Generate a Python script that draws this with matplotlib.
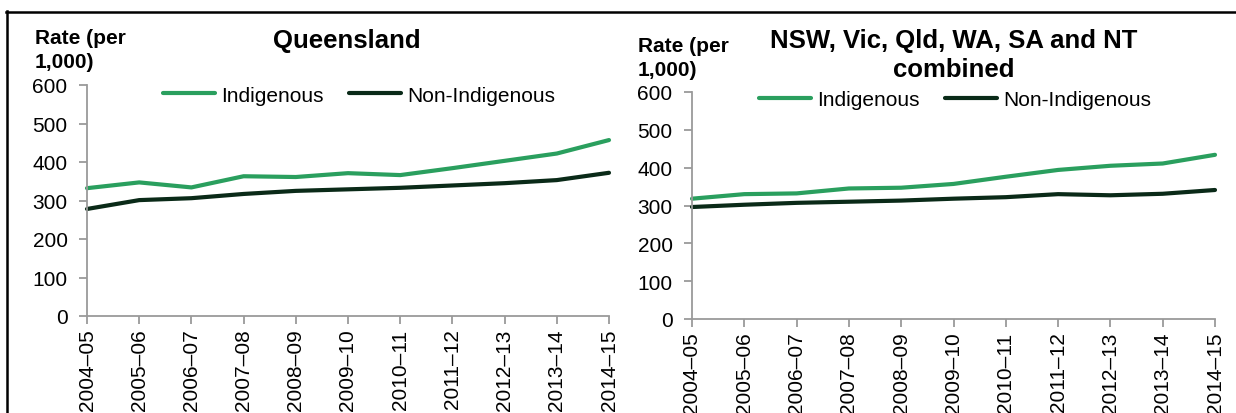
import matplotlib
matplotlib.use("Agg")
import matplotlib.pyplot as plt
from matplotlib.lines import Line2D

plt.rcParams['font.family'] = ['Liberation Sans', 'DejaVu Sans']

years = ["2004\u201305", "2005\u201306", "2006\u201307", "2007\u201308", "2008\u201309",
         "2009\u201310", "2010\u201311", "2011\u201312", "2012\u201313", "2013\u201314", "2014\u201315"]

qld_indigenous = [332, 347, 334, 363, 361, 371, 366, 384, 403, 422, 457]
qld_non_indigenous = [278, 301, 306, 317, 325, 329, 333, 339, 345, 353, 372]

comb_indigenous = [318, 330, 332, 345, 347, 357, 376, 394, 405, 411, 434]
comb_non_indigenous = [296, 302, 307, 310, 313, 318, 322, 330, 327, 331, 341]

titles = ["Queensland", "NSW, Vic, Qld, WA, SA and NT\ncombined"]
series_labels = ["Indigenous", "Non-Indigenous"]
yticks = [0, 100, 200, 300, 400, 500, 600]

GREEN = '#2A9F5E'
DARK = '#0A2A18'
AXC = '#9A9A9A'

W, H = 1236, 414
fig = plt.figure(figsize=(W / 100, H / 100), dpi=100)


def fx(px):
    return px / W


def fy(py):
    return 1 - py / H


panels = [
    dict(x0=87, x1=609, ytop=86, ybot=317, ind=qld_indigenous, non=qld_non_indigenous,
         title=titles[0], tx=347, ty=29, rx=35, ry=29, legx=359, legy=96),
    dict(x0=692, x1=1215, ytop=93, ybot=320, ind=comb_indigenous, non=comb_non_indigenous,
         title=titles[1], tx=954, ty=29, rx=638, ry=37, legx=955, legy=101),
]

for p in panels:
    ax = fig.add_axes([fx(p['x0']), fy(p['ybot']), fx(p['x1'] - p['x0']), (p['ybot'] - p['ytop']) / H])
    xs = list(range(len(years)))
    ax.plot(xs, p['ind'], color=GREEN, lw=3.0, label=series_labels[0], solid_capstyle='round')
    ax.plot(xs, p['non'], color=DARK, lw=3.0, label=series_labels[1], solid_capstyle='round')
    ax.set_xlim(0, len(years) - 1)
    ax.set_ylim(0, 600)
    ax.set_yticks(yticks)
    ax.set_xticks(xs)
    ax.set_xticklabels(years, rotation=90)
    for s in ['top', 'right']:
        ax.spines[s].set_visible(False)
    for s in ['left', 'bottom']:
        ax.spines[s].set_color(AXC)
        ax.spines[s].set_linewidth(1.3)
    ax.spines['bottom'].set_zorder(0)
    ax.tick_params(axis='both', colors=AXC, labelcolor='black', labelsize=15,
                   length=6, width=1.3, direction='out')
    ax.tick_params(axis='y', pad=8)
    ax.tick_params(axis='x', pad=3)
    ax.patch.set_alpha(0)
    for ln in ax.lines:
        ln.set_clip_on(False)

    fig.legend(handles=ax.lines, labels=series_labels, loc='center', ncol=2,
               bbox_to_anchor=(fx(p['legx']), fy(p['legy'])), bbox_transform=fig.transFigure,
               frameon=False, fontsize=15, handlelength=2.5, handletextpad=0.3,
               columnspacing=1.2, borderpad=0, borderaxespad=0)

    fig.text(fx(p['tx']), fy(p['ty']), p['title'], ha='center', va='top',
             fontsize=18.5, fontweight='bold', linespacing=1.25)
    fig.text(fx(p['rx']), fy(p['ry']), "Rate (per\n1,000)", ha='left', va='top',
             fontsize=15, fontweight='bold', linespacing=1.3)

# frame lines
fig.add_artist(Line2D([fx(6), 1.0], [fy(12.5), fy(12.5)], color='black', lw=1.8,
                      transform=fig.transFigure))
fig.add_artist(Line2D([fx(7), fx(7)], [fy(12), 0.0], color='black', lw=1.8,
                      transform=fig.transFigure))

fig.savefig('out.png', dpi=100)
